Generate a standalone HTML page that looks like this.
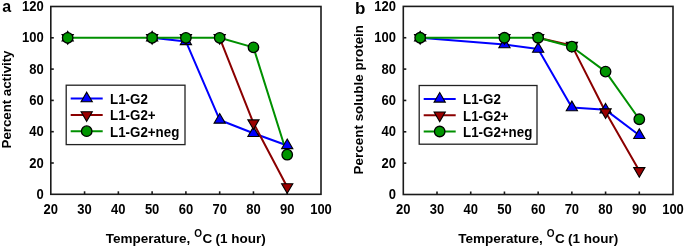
<!DOCTYPE html>
<html><head><meta charset="utf-8"><style>
html,body{margin:0;padding:0;background:#fff;}
body{width:685px;height:247px;overflow:hidden;}
svg{display:block;filter:blur(0.35px);}
text{font-family:"Liberation Sans",sans-serif;font-weight:bold;font-size:13px;fill:#000;}
</style></head><body>
<svg width="685" height="247" viewBox="0 0 685 247">
<rect width="685" height="247" fill="#fff"/>
<rect x="50.80" y="6.50" width="270.20" height="187.80" fill="none" stroke="#1a1a1a" stroke-width="1.6"/>
<line x1="84.57" y1="194.30" x2="84.57" y2="191.30" stroke="#1a1a1a" stroke-width="1.6"/>
<line x1="118.35" y1="194.30" x2="118.35" y2="191.30" stroke="#1a1a1a" stroke-width="1.6"/>
<line x1="152.12" y1="194.30" x2="152.12" y2="191.30" stroke="#1a1a1a" stroke-width="1.6"/>
<line x1="185.90" y1="194.30" x2="185.90" y2="191.30" stroke="#1a1a1a" stroke-width="1.6"/>
<line x1="219.68" y1="194.30" x2="219.68" y2="191.30" stroke="#1a1a1a" stroke-width="1.6"/>
<line x1="253.45" y1="194.30" x2="253.45" y2="191.30" stroke="#1a1a1a" stroke-width="1.6"/>
<line x1="287.22" y1="194.30" x2="287.22" y2="191.30" stroke="#1a1a1a" stroke-width="1.6"/>
<line x1="50.80" y1="163.00" x2="53.80" y2="163.00" stroke="#1a1a1a" stroke-width="1.6"/>
<line x1="50.80" y1="131.70" x2="53.80" y2="131.70" stroke="#1a1a1a" stroke-width="1.6"/>
<line x1="50.80" y1="100.40" x2="53.80" y2="100.40" stroke="#1a1a1a" stroke-width="1.6"/>
<line x1="50.80" y1="69.10" x2="53.80" y2="69.10" stroke="#1a1a1a" stroke-width="1.6"/>
<line x1="50.80" y1="37.80" x2="53.80" y2="37.80" stroke="#1a1a1a" stroke-width="1.6"/>
<text transform="translate(50.80,214.00) scale(1,1.07)" text-anchor="middle" style="font-size:13px">20</text>
<text transform="translate(84.57,214.00) scale(1,1.07)" text-anchor="middle" style="font-size:13px">30</text>
<text transform="translate(118.35,214.00) scale(1,1.07)" text-anchor="middle" style="font-size:13px">40</text>
<text transform="translate(152.12,214.00) scale(1,1.07)" text-anchor="middle" style="font-size:13px">50</text>
<text transform="translate(185.90,214.00) scale(1,1.07)" text-anchor="middle" style="font-size:13px">60</text>
<text transform="translate(219.68,214.00) scale(1,1.07)" text-anchor="middle" style="font-size:13px">70</text>
<text transform="translate(253.45,214.00) scale(1,1.07)" text-anchor="middle" style="font-size:13px">80</text>
<text transform="translate(287.22,214.00) scale(1,1.07)" text-anchor="middle" style="font-size:13px">90</text>
<text transform="translate(321.00,214.00) scale(1,1.07)" text-anchor="middle" style="font-size:13px">100</text>
<text transform="translate(43.80,198.90) scale(1,1.07)" text-anchor="end" style="font-size:13px">0</text>
<text transform="translate(43.80,167.60) scale(1,1.07)" text-anchor="end" style="font-size:13px">20</text>
<text transform="translate(43.80,136.30) scale(1,1.07)" text-anchor="end" style="font-size:13px">40</text>
<text transform="translate(43.80,105.00) scale(1,1.07)" text-anchor="end" style="font-size:13px">60</text>
<text transform="translate(43.80,73.70) scale(1,1.07)" text-anchor="end" style="font-size:13px">80</text>
<text transform="translate(43.80,42.40) scale(1,1.07)" text-anchor="end" style="font-size:13px">100</text>
<text transform="translate(43.80,11.10) scale(1,1.07)" text-anchor="end" style="font-size:13px">120</text>
<path d="M152.12,37.80 L185.90,41.40 L219.68,119.96 L253.45,133.27 L287.22,145.47" fill="none" stroke="#0000ff" stroke-width="2.0" stroke-linejoin="round"/>
<path d="M219.68,37.80 L253.45,123.09 L287.22,186.94" fill="none" stroke="#8b0000" stroke-width="2.0" stroke-linejoin="round"/>
<path d="M67.69,37.80 L152.12,37.80 L185.90,37.80 L219.68,37.80 L253.45,47.35 L287.22,154.71" fill="none" stroke="#009000" stroke-width="2.0" stroke-linejoin="round"/>
<path d="M67.69,31.40 L73.29,41.00 L62.09,41.00 Z" fill="#0000ff" stroke="#000" stroke-width="1.1" stroke-linejoin="miter"/>
<path d="M152.12,31.40 L157.72,41.00 L146.53,41.00 Z" fill="#0000ff" stroke="#000" stroke-width="1.1" stroke-linejoin="miter"/>
<path d="M185.90,35.00 L191.50,44.60 L180.30,44.60 Z" fill="#0000ff" stroke="#000" stroke-width="1.1" stroke-linejoin="miter"/>
<path d="M219.68,113.56 L225.28,123.16 L214.08,123.16 Z" fill="#0000ff" stroke="#000" stroke-width="1.1" stroke-linejoin="miter"/>
<path d="M253.45,126.87 L259.05,136.47 L247.85,136.47 Z" fill="#0000ff" stroke="#000" stroke-width="1.1" stroke-linejoin="miter"/>
<path d="M287.22,139.07 L292.82,148.67 L281.62,148.67 Z" fill="#0000ff" stroke="#000" stroke-width="1.1" stroke-linejoin="miter"/>
<path d="M67.69,44.20 L73.29,34.60 L62.09,34.60 Z" fill="#9a0000" stroke="#000" stroke-width="1.1" stroke-linejoin="miter"/>
<path d="M152.12,44.20 L157.72,34.60 L146.53,34.60 Z" fill="#9a0000" stroke="#000" stroke-width="1.1" stroke-linejoin="miter"/>
<path d="M185.90,44.20 L191.50,34.60 L180.30,34.60 Z" fill="#9a0000" stroke="#000" stroke-width="1.1" stroke-linejoin="miter"/>
<path d="M219.68,44.20 L225.28,34.60 L214.08,34.60 Z" fill="#9a0000" stroke="#000" stroke-width="1.1" stroke-linejoin="miter"/>
<path d="M253.45,129.49 L259.05,119.89 L247.85,119.89 Z" fill="#9a0000" stroke="#000" stroke-width="1.1" stroke-linejoin="miter"/>
<path d="M287.22,193.34 L292.82,183.74 L281.62,183.74 Z" fill="#9a0000" stroke="#000" stroke-width="1.1" stroke-linejoin="miter"/>
<circle cx="67.69" cy="37.80" r="5.25" fill="#009500" stroke="#000" stroke-width="1.3"/>
<circle cx="152.12" cy="37.80" r="5.25" fill="#009500" stroke="#000" stroke-width="1.3"/>
<circle cx="185.90" cy="37.80" r="5.25" fill="#009500" stroke="#000" stroke-width="1.3"/>
<circle cx="219.68" cy="37.80" r="5.25" fill="#009500" stroke="#000" stroke-width="1.3"/>
<circle cx="253.45" cy="47.35" r="5.25" fill="#009500" stroke="#000" stroke-width="1.3"/>
<circle cx="287.22" cy="154.71" r="5.25" fill="#009500" stroke="#000" stroke-width="1.3"/>
<text transform="translate(2.30,11.50) scale(1,1.0)" style="font-size:16px">a</text>
<text transform="translate(10.5,99.45) rotate(-90)" text-anchor="middle" style="font-size:13.4px" textLength="98.0">Percent activity</text>
<text transform="translate(105.80,242.60) scale(1,1.0)" style="font-size:13.5px">Temperature,</text>
<text transform="translate(194.20,236.70) scale(1,1.07)" style="font-size:10px">O</text>
<text transform="translate(202.40,242.60) scale(1,1.0)" style="font-size:13.5px">C</text>
<text transform="translate(215.50,242.60) scale(1,1.0)" style="font-size:13.5px">(1 hour)</text>
<rect x="66.2" y="85.2" width="118.8" height="59.4" fill="#fff" stroke="#222" stroke-width="1.3"/>
<line x1="70.7" y1="98.60" x2="102.7" y2="98.60" stroke="#0000ff" stroke-width="2.0"/>
<path d="M86.70,92.20 L92.30,101.80 L81.10,101.80 Z" fill="#0000ff" stroke="#000" stroke-width="1.1" stroke-linejoin="miter"/>
<text transform="translate(110.00,103.90) scale(1,1.07)" style="font-size:13.35px">L1-G2</text>
<line x1="70.7" y1="114.90" x2="102.7" y2="114.90" stroke="#8b0000" stroke-width="2.0"/>
<path d="M86.70,121.30 L92.30,111.70 L81.10,111.70 Z" fill="#9a0000" stroke="#000" stroke-width="1.1" stroke-linejoin="miter"/>
<text transform="translate(110.00,120.20) scale(1,1.07)" style="font-size:13.35px">L1-G2+</text>
<line x1="70.7" y1="131.20" x2="102.7" y2="131.20" stroke="#009000" stroke-width="2.0"/>
<circle cx="86.70" cy="131.20" r="5.25" fill="#009500" stroke="#000" stroke-width="1.3"/>
<text transform="translate(110.00,136.50) scale(1,1.07)" style="font-size:13.35px">L1-G2+neg</text>
<rect x="403.30" y="6.40" width="269.70" height="188.10" fill="none" stroke="#1a1a1a" stroke-width="1.6"/>
<line x1="437.01" y1="194.50" x2="437.01" y2="191.50" stroke="#1a1a1a" stroke-width="1.6"/>
<line x1="470.73" y1="194.50" x2="470.73" y2="191.50" stroke="#1a1a1a" stroke-width="1.6"/>
<line x1="504.44" y1="194.50" x2="504.44" y2="191.50" stroke="#1a1a1a" stroke-width="1.6"/>
<line x1="538.15" y1="194.50" x2="538.15" y2="191.50" stroke="#1a1a1a" stroke-width="1.6"/>
<line x1="571.86" y1="194.50" x2="571.86" y2="191.50" stroke="#1a1a1a" stroke-width="1.6"/>
<line x1="605.58" y1="194.50" x2="605.58" y2="191.50" stroke="#1a1a1a" stroke-width="1.6"/>
<line x1="639.29" y1="194.50" x2="639.29" y2="191.50" stroke="#1a1a1a" stroke-width="1.6"/>
<line x1="403.30" y1="163.15" x2="406.30" y2="163.15" stroke="#1a1a1a" stroke-width="1.6"/>
<line x1="403.30" y1="131.80" x2="406.30" y2="131.80" stroke="#1a1a1a" stroke-width="1.6"/>
<line x1="403.30" y1="100.45" x2="406.30" y2="100.45" stroke="#1a1a1a" stroke-width="1.6"/>
<line x1="403.30" y1="69.10" x2="406.30" y2="69.10" stroke="#1a1a1a" stroke-width="1.6"/>
<line x1="403.30" y1="37.75" x2="406.30" y2="37.75" stroke="#1a1a1a" stroke-width="1.6"/>
<text transform="translate(403.30,213.50) scale(1,1.07)" text-anchor="middle" style="font-size:13px">20</text>
<text transform="translate(437.01,213.50) scale(1,1.07)" text-anchor="middle" style="font-size:13px">30</text>
<text transform="translate(470.73,213.50) scale(1,1.07)" text-anchor="middle" style="font-size:13px">40</text>
<text transform="translate(504.44,213.50) scale(1,1.07)" text-anchor="middle" style="font-size:13px">50</text>
<text transform="translate(538.15,213.50) scale(1,1.07)" text-anchor="middle" style="font-size:13px">60</text>
<text transform="translate(571.86,213.50) scale(1,1.07)" text-anchor="middle" style="font-size:13px">70</text>
<text transform="translate(605.58,213.50) scale(1,1.07)" text-anchor="middle" style="font-size:13px">80</text>
<text transform="translate(639.29,213.50) scale(1,1.07)" text-anchor="middle" style="font-size:13px">90</text>
<text transform="translate(673.00,213.50) scale(1,1.07)" text-anchor="middle" style="font-size:13px">100</text>
<text transform="translate(396.00,199.10) scale(1,1.07)" text-anchor="end" style="font-size:13px">0</text>
<text transform="translate(396.00,167.75) scale(1,1.07)" text-anchor="end" style="font-size:13px">20</text>
<text transform="translate(396.00,136.40) scale(1,1.07)" text-anchor="end" style="font-size:13px">40</text>
<text transform="translate(396.00,105.05) scale(1,1.07)" text-anchor="end" style="font-size:13px">60</text>
<text transform="translate(396.00,73.70) scale(1,1.07)" text-anchor="end" style="font-size:13px">80</text>
<text transform="translate(396.00,42.35) scale(1,1.07)" text-anchor="end" style="font-size:13px">100</text>
<text transform="translate(396.00,11.00) scale(1,1.07)" text-anchor="end" style="font-size:13px">120</text>
<path d="M420.16,37.75 L504.44,44.49 L538.15,49.04 L571.86,107.50 L605.58,109.86 L639.29,135.25" fill="none" stroke="#0000ff" stroke-width="2.0" stroke-linejoin="round"/>
<path d="M538.15,37.75 L571.86,45.59 L605.58,112.05 L639.29,170.83" fill="none" stroke="#8b0000" stroke-width="2.0" stroke-linejoin="round"/>
<path d="M420.16,37.75 L504.44,37.75 L538.15,37.75 L571.86,46.68 L605.58,71.61 L639.29,119.26" fill="none" stroke="#009000" stroke-width="2.0" stroke-linejoin="round"/>
<path d="M420.16,31.35 L425.76,40.95 L414.56,40.95 Z" fill="#0000ff" stroke="#000" stroke-width="1.1" stroke-linejoin="miter"/>
<path d="M504.44,38.09 L510.04,47.69 L498.84,47.69 Z" fill="#0000ff" stroke="#000" stroke-width="1.1" stroke-linejoin="miter"/>
<path d="M538.15,42.64 L543.75,52.24 L532.55,52.24 Z" fill="#0000ff" stroke="#000" stroke-width="1.1" stroke-linejoin="miter"/>
<path d="M571.86,101.10 L577.46,110.70 L566.26,110.70 Z" fill="#0000ff" stroke="#000" stroke-width="1.1" stroke-linejoin="miter"/>
<path d="M605.58,103.45 L611.18,113.06 L599.98,113.06 Z" fill="#0000ff" stroke="#000" stroke-width="1.1" stroke-linejoin="miter"/>
<path d="M639.29,128.85 L644.89,138.45 L633.69,138.45 Z" fill="#0000ff" stroke="#000" stroke-width="1.1" stroke-linejoin="miter"/>
<path d="M420.16,44.15 L425.76,34.55 L414.56,34.55 Z" fill="#9a0000" stroke="#000" stroke-width="1.1" stroke-linejoin="miter"/>
<path d="M504.44,44.15 L510.04,34.55 L498.84,34.55 Z" fill="#9a0000" stroke="#000" stroke-width="1.1" stroke-linejoin="miter"/>
<path d="M538.15,44.15 L543.75,34.55 L532.55,34.55 Z" fill="#9a0000" stroke="#000" stroke-width="1.1" stroke-linejoin="miter"/>
<path d="M571.86,51.99 L577.46,42.39 L566.26,42.39 Z" fill="#9a0000" stroke="#000" stroke-width="1.1" stroke-linejoin="miter"/>
<path d="M605.58,118.45 L611.18,108.85 L599.98,108.85 Z" fill="#9a0000" stroke="#000" stroke-width="1.1" stroke-linejoin="miter"/>
<path d="M639.29,177.23 L644.89,167.63 L633.69,167.63 Z" fill="#9a0000" stroke="#000" stroke-width="1.1" stroke-linejoin="miter"/>
<circle cx="420.16" cy="37.75" r="5.25" fill="#009500" stroke="#000" stroke-width="1.3"/>
<circle cx="504.44" cy="37.75" r="5.25" fill="#009500" stroke="#000" stroke-width="1.3"/>
<circle cx="538.15" cy="37.75" r="5.25" fill="#009500" stroke="#000" stroke-width="1.3"/>
<circle cx="571.86" cy="46.68" r="5.25" fill="#009500" stroke="#000" stroke-width="1.3"/>
<circle cx="605.58" cy="71.61" r="5.25" fill="#009500" stroke="#000" stroke-width="1.3"/>
<circle cx="639.29" cy="119.26" r="5.25" fill="#009500" stroke="#000" stroke-width="1.3"/>
<text transform="translate(355.00,13.80) scale(1,1.0)" style="font-size:17px">b</text>
<text transform="translate(363.0,99.70) rotate(-90)" text-anchor="middle" style="font-size:13.4px" textLength="149.5">Percent soluble protein</text>
<text transform="translate(458.30,242.80) scale(1,1.0)" style="font-size:13.5px">Temperature,</text>
<text transform="translate(546.70,236.90) scale(1,1.07)" style="font-size:10px">O</text>
<text transform="translate(554.90,242.80) scale(1,1.0)" style="font-size:13.5px">C</text>
<text transform="translate(568.00,242.80) scale(1,1.0)" style="font-size:13.5px">(1 hour)</text>
<rect x="419.2" y="85.5" width="117.8" height="58.7" fill="#fff" stroke="#222" stroke-width="1.3"/>
<line x1="423.7" y1="98.90" x2="455.7" y2="98.90" stroke="#0000ff" stroke-width="2.0"/>
<path d="M439.70,92.50 L445.30,102.10 L434.10,102.10 Z" fill="#0000ff" stroke="#000" stroke-width="1.1" stroke-linejoin="miter"/>
<text transform="translate(463.00,104.20) scale(1,1.07)" style="font-size:13.35px">L1-G2</text>
<line x1="423.7" y1="115.20" x2="455.7" y2="115.20" stroke="#8b0000" stroke-width="2.0"/>
<path d="M439.70,121.60 L445.30,112.00 L434.10,112.00 Z" fill="#9a0000" stroke="#000" stroke-width="1.1" stroke-linejoin="miter"/>
<text transform="translate(463.00,120.50) scale(1,1.07)" style="font-size:13.35px">L1-G2+</text>
<line x1="423.7" y1="131.50" x2="455.7" y2="131.50" stroke="#009000" stroke-width="2.0"/>
<circle cx="439.70" cy="131.50" r="5.25" fill="#009500" stroke="#000" stroke-width="1.3"/>
<text transform="translate(463.00,136.80) scale(1,1.07)" style="font-size:13.35px">L1-G2+neg</text>
</svg>
</body></html>
